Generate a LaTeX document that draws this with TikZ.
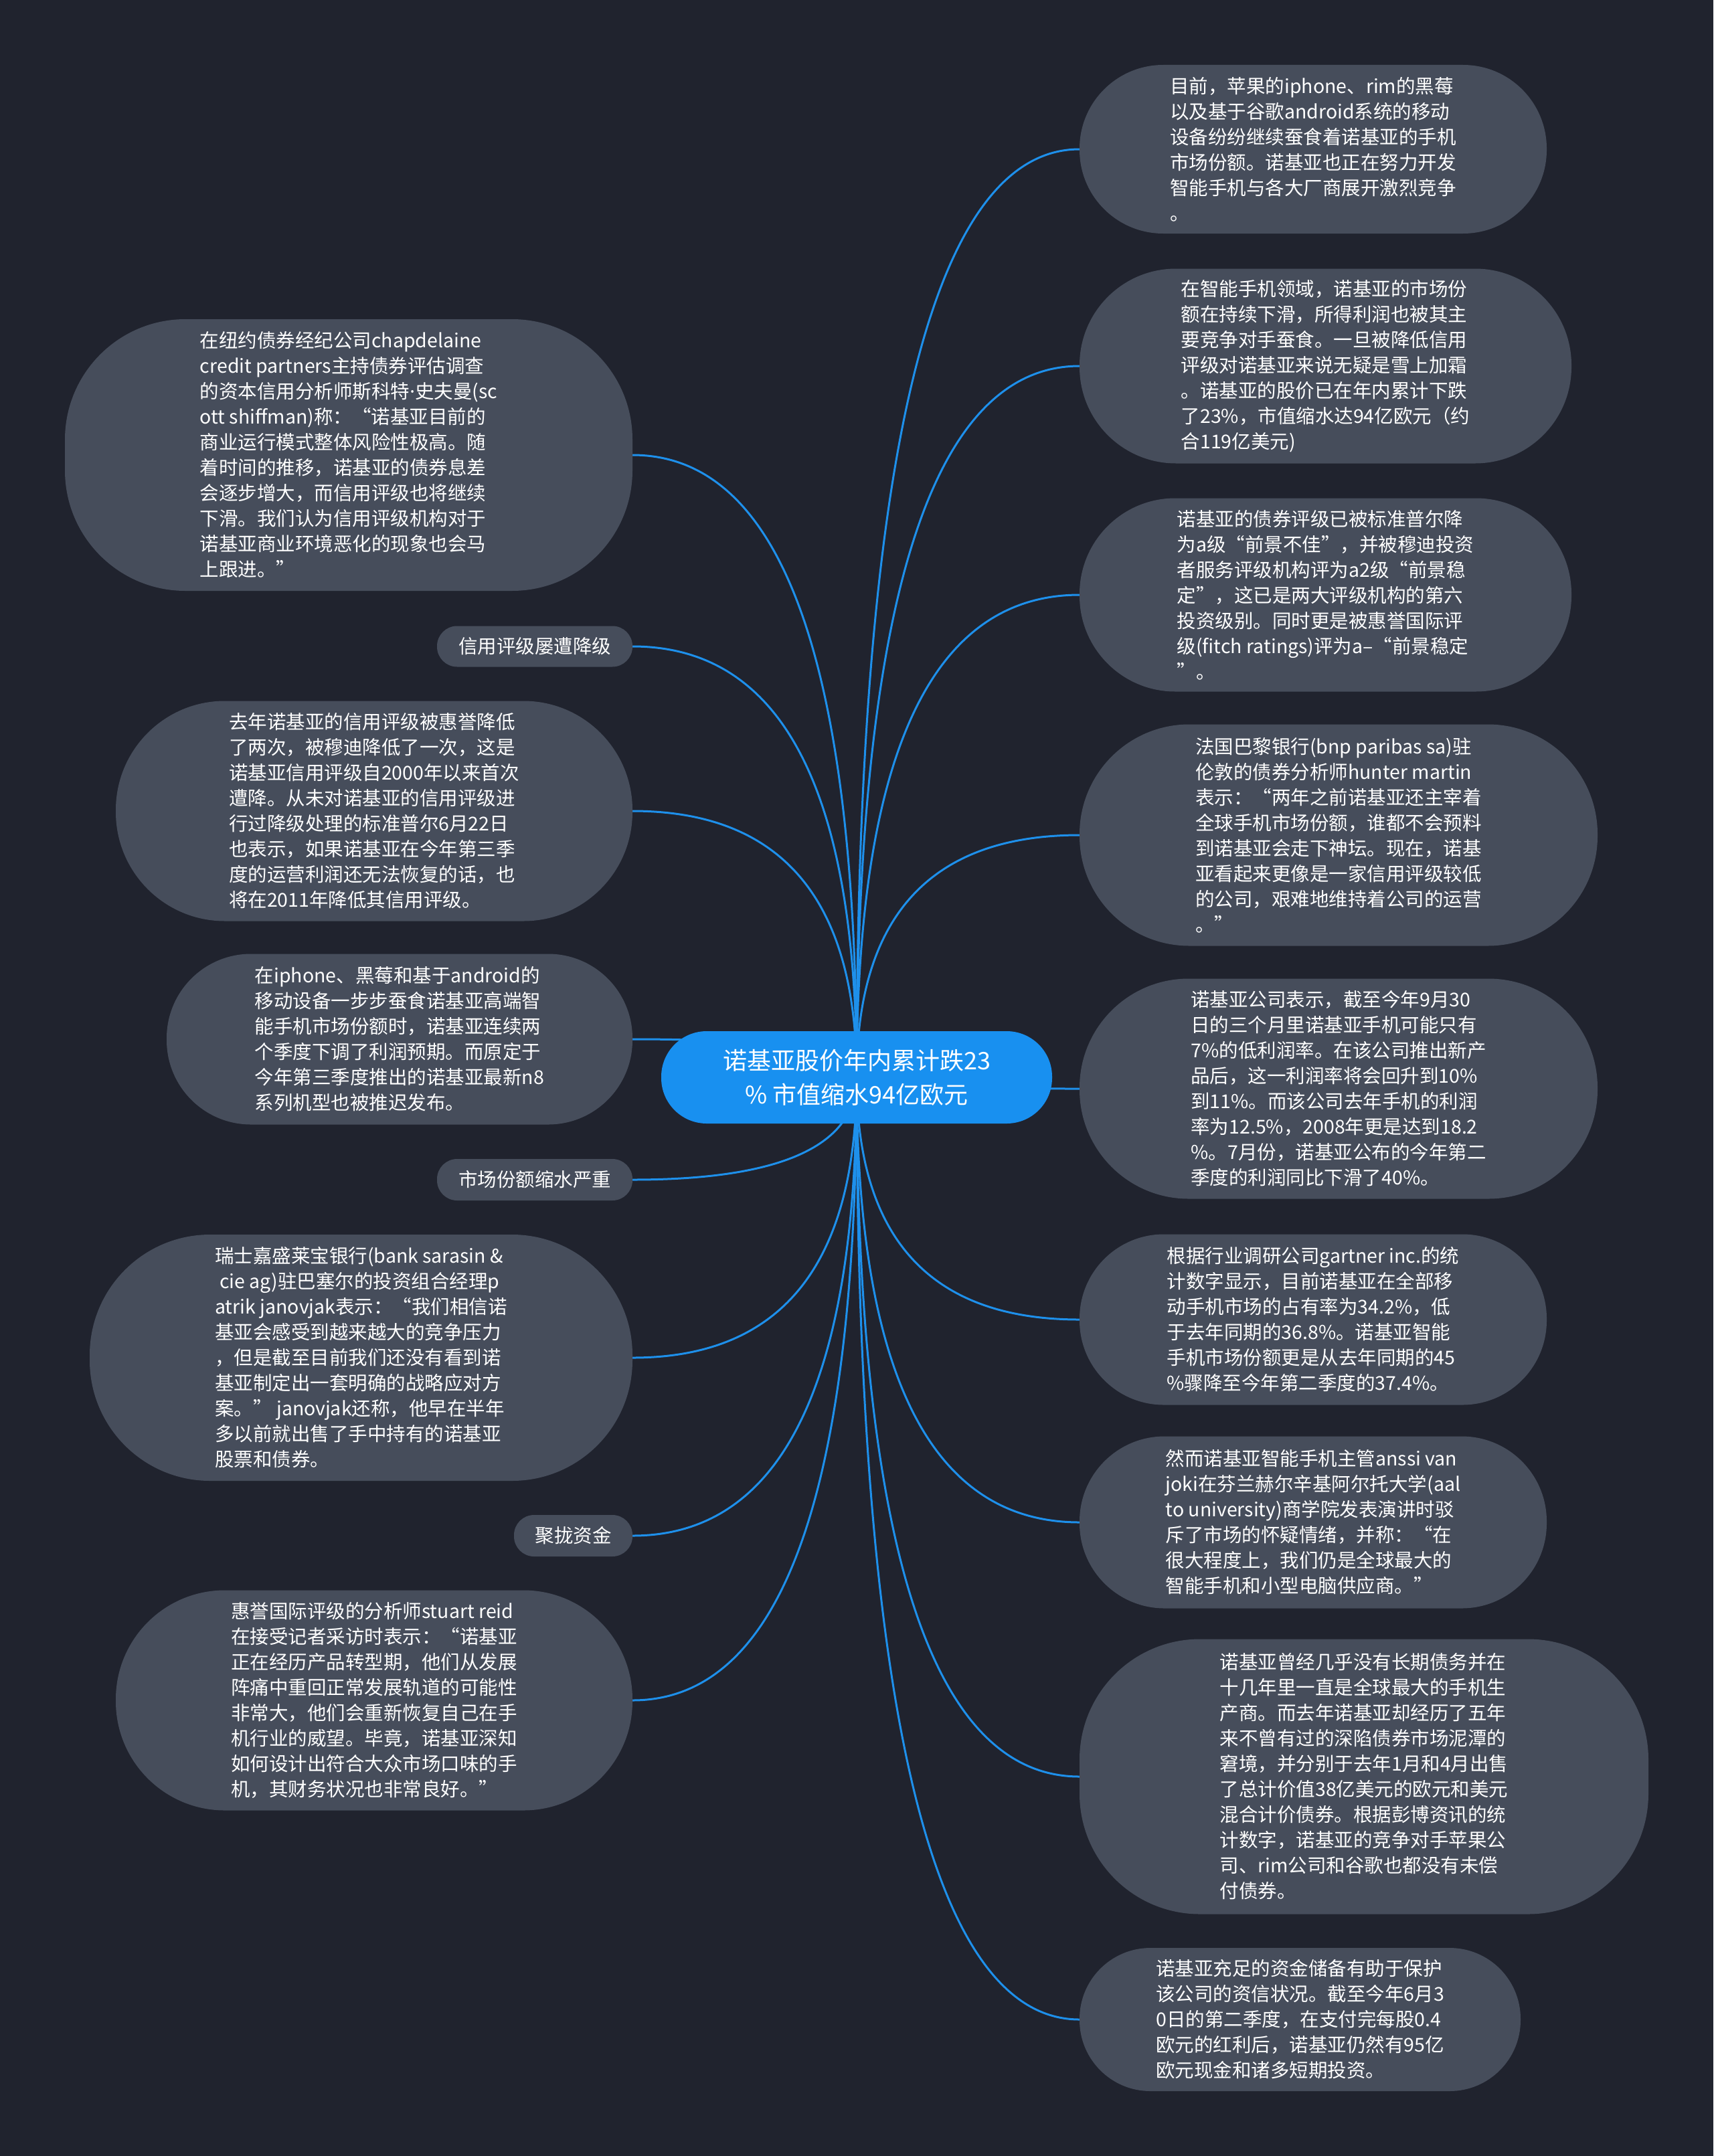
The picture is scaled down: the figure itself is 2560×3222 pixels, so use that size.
\documentclass[tikz,border=0pt]{standalone}
\usepackage{fontspec}
\setmainfont{Noto Sans CJK SC}
\newfontfamily\latinfont{Noto Sans}
\usetikzlibrary{calc}
\pgfdeclarelayer{bglayer}
\pgfdeclarelayer{edgelayer}
\pgfsetlayers{bglayer,edgelayer,main}
\definecolor{bgc}{RGB}{32,35,46}
\definecolor{boxc}{RGB}{70,77,91}
\definecolor{edgec}{RGB}{30,144,235}
\definecolor{rootc}{RGB}{24,144,240}
\tikzset{
  box/.style={rectangle, fill=boxc, text=white, align=left, inner sep=0pt, outer sep=0pt,
    font=\fontsize{28.5}{38}\selectfont},
  rootbox/.style={rectangle, fill=rootc, text=white, align=center, inner sep=0pt, outer sep=0pt,
    font=\fontsize{36}{51}\selectfont},
  edge/.style={draw=edgec, line width=3pt},
}
\begin{document}
\begin{tikzpicture}[x=1pt,y=-1pt]
\begin{pgfonlayer}{bglayer}
\fill[bgc] (0,0) rectangle (2560,3222);
\end{pgfonlayer}
\useasboundingbox (0,0) rectangle (2560,3222);

\node[rootbox, minimum width=584pt, minimum height=138pt, rounded corners=68pt] (c) at (1280,1610)
 {诺基亚股价年内累计跌23\\\% 市值缩水94亿欧元};

% right side
\node[box, minimum width=698pt, minimum height=252pt, rounded corners=125pt] (r1) at (1962,223)
 {目前，苹果的iphone、rim的黑莓\\以及基于谷歌android系统的移动\\设备纷纷继续蚕食着诺基亚的手机\\市场份额。诺基亚也正在努力开发\\智能手机与各大厂商展开激烈竞争\\。};
\node[box, minimum width=735pt, minimum height=291pt, rounded corners=144pt] (r2) at (1980.5,547)
 {在智能手机领域，诺基亚的市场份\\额在持续下滑，所得利润也被其主\\要竞争对手蚕食。一旦被降低信用\\评级对诺基亚来说无疑是雪上加霜\\。诺基亚的股价已在年内累计下跌\\了23\%，市值缩水达94亿欧元（约\\合119亿美元)};
\node[box, minimum width=735pt, minimum height=289pt, rounded corners=143pt] (r3) at (1980.5,889)
 {诺基亚的债券评级已被标准普尔降\\为a级“前景不佳”，并被穆迪投资\\者服务评级机构评为a2级“前景稳\\定”，这已是两大评级机构的第六\\投资级别。同时更是被惠誉国际评\\级(fitch ratings)评为a–“前景稳定\\”。};
\node[box, minimum width=774pt, minimum height=331pt, rounded corners=164pt] (r4) at (2000,1248)
 {法国巴黎银行(bnp paribas sa)驻\\伦敦的债券分析师hunter martin\\表示：“两年之前诺基亚还主宰着\\全球手机市场份额，谁都不会预料\\到诺基亚会走下神坛。现在，诺基\\亚看起来更像是一家信用评级较低\\的公司，艰难地维持着公司的运营\\。”};
\node[box, minimum width=774pt, minimum height=329pt, rounded corners=163pt] (r5) at (2000,1627)
 {诺基亚公司表示，截至今年9月30\\日的三个月里诺基亚手机可能只有\\7\%的低利润率。在该公司推出新产\\品后，这一利润率将会回升到10\%\\到11\%。而该公司去年手机的利润\\率为12.5\%，2008年更是达到18.2\\\%。7月份，诺基亚公布的今年第二\\季度的利润同比下滑了40\%。};
\node[box, minimum width=698pt, minimum height=255pt, rounded corners=126pt] (r6) at (1962,1972)
 {根据行业调研公司gartner inc.的统\\计数字显示，目前诺基亚在全部移\\动手机市场的占有率为34.2\%，低\\于去年同期的36.8\%。诺基亚智能\\手机市场份额更是从去年同期的45\\\%骤降至今年第二季度的37.4\%。};
\node[box, minimum width=698pt, minimum height=257pt, rounded corners=127pt] (r7) at (1962,2275)
 {然而诺基亚智能手机主管anssi van\\joki在芬兰赫尔辛基阿尔托大学(aal\\to university)商学院发表演讲时驳\\斥了市场的怀疑情绪，并称：“在\\很大程度上，我们仍是全球最大的\\智能手机和小型电脑供应商。”};
\node[box, minimum width=850pt, minimum height=411pt, rounded corners=180pt] (r8) at (2038,2655)
 {诺基亚曾经几乎没有长期债务并在\\十几年里一直是全球最大的手机生\\产商。而去年诺基亚却经历了五年\\来不曾有过的深陷债券市场泥潭的\\窘境，并分别于去年1月和4月出售\\了总计价值38亿美元的欧元和美元\\混合计价债券。根据彭博资讯的统\\计数字，诺基亚的竞争对手苹果公\\司、rim公司和谷歌也都没有未偿\\付债券。};
\node[box, minimum width=659pt, minimum height=214pt, rounded corners=106pt] (r9) at (1942.5,3018)
 {诺基亚充足的资金储备有助于保护\\该公司的资信状况。截至今年6月3\\0日的第二季度，在支付完每股0.4\\欧元的红利后，诺基亚仍然有95亿\\欧元现金和诸多短期投资。};

% left side
\node[box, minimum width=848pt, minimum height=406pt, rounded corners=180pt] (l1) at (521,680)
 {在纽约债券经纪公司chapdelaine\\credit partners主持债券评估调查\\的资本信用分析师斯科特{\latinfont ·}史夫曼(sc\\ott shiffman)称：“诺基亚目前的\\商业运行模式整体风险性极高。随\\着时间的推移，诺基亚的债券息差\\会逐步增大，而信用评级也将继续\\下滑。我们认为信用评级机构对于\\诺基亚商业环境恶化的现象也会马\\上跟进。”};
\node[box, align=center, minimum width=292pt, minimum height=61pt, rounded corners=30pt] (l2) at (799,966)
 {信用评级屡遭降级};
\node[box, minimum width=772pt, minimum height=329pt, rounded corners=163pt] (l3) at (559,1212)
 {去年诺基亚的信用评级被惠誉降低\\了两次，被穆迪降低了一次，这是\\诺基亚信用评级自2000年以来首次\\遭降。从未对诺基亚的信用评级进\\行过降级处理的标准普尔6月22日\\也表示，如果诺基亚在今年第三季\\度的运营利润还无法恢复的话，也\\将在2011年降低其信用评级。};
\node[box, minimum width=696pt, minimum height=255pt, rounded corners=126pt] (l4) at (597,1553)
 {在iphone、黑莓和基于android的\\移动设备一步步蚕食诺基亚高端智\\能手机市场份额时，诺基亚连续两\\个季度下调了利润预期。而原定于\\今年第三季度推出的诺基亚最新n8\\系列机型也被推迟发布。};
\node[box, align=center, minimum width=292pt, minimum height=62pt, rounded corners=30pt] (l5) at (799,1763)
 {市场份额缩水严重};
\node[box, minimum width=811pt, minimum height=368pt, rounded corners=180pt] (l6) at (539.5,2029)
 {瑞士嘉盛莱宝银行(bank sarasin \&\\\hspace*{0.25em}cie ag)驻巴塞尔的投资组合经理p\\atrik janovjak表示：“我们相信诺\\基亚会感受到越来越大的竞争压力\\，但是截至目前我们还没有看到诺\\基亚制定出一套明确的战略应对方\\案。” janovjak还称，他早在半年\\多以前就出售了手中持有的诺基亚\\股票和债券。};
\node[box, align=center, minimum width=177pt, minimum height=62pt, rounded corners=30pt] (l7) at (856.5,2295)
 {聚拢资金};
\node[box, minimum width=772pt, minimum height=329pt, rounded corners=163pt] (l8) at (559,2541)
 {惠誉国际评级的分析师stuart reid\\在接受记者采访时表示：“诺基亚\\正在经历产品转型期，他们从发展\\阵痛中重回正常发展轨道的可能性\\非常大，他们会重新恢复自己在手\\机行业的威望。毕竟，诺基亚深知\\如何设计出符合大众市场口味的手\\机，其财务状况也非常良好。”};

\begin{pgfonlayer}{edgelayer}
\foreach \t in {r1.west,r2.west,r3.west,r4.west,r5.west,r6.west,r7.west,r8.west,r9.west,
                l1.east,l2.east,l3.east,l4.east,l5.east,l6.east,l7.east,l8.east}{
  \draw[edge] (c.center) .. controls ($(c.center)!0.6667!(c.center|-\t)$)
      and ($(\t)!0.6667!(c.center|-\t)$) .. (\t);
}
\end{pgfonlayer}
\end{tikzpicture}
\end{document}
